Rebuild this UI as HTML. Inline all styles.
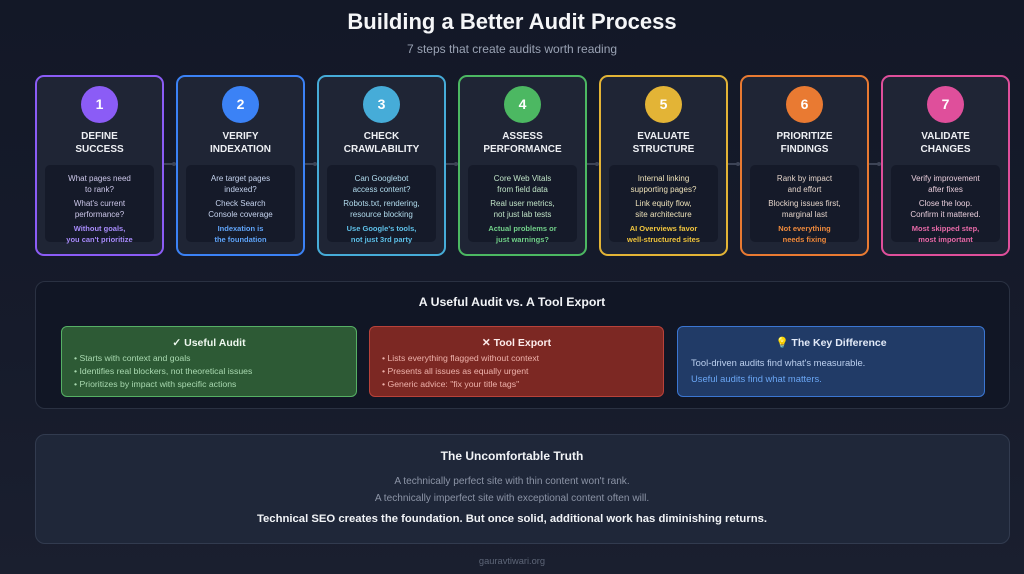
<!DOCTYPE html>
<html><head><meta charset="utf-8">
<style>
*{margin:0;padding:0;box-sizing:border-box}
html,body{width:1024px;height:574px;overflow:hidden}
body{background:linear-gradient(180deg,#131827 0%,#161b2b 60%,#1a1f2f 100%);font-family:"Liberation Sans",Arial,sans-serif;position:relative;color:#fff}
.abs{position:absolute}
.h1{left:0;width:1024px;top:8px;text-align:center;font-size:22px;font-weight:bold;color:#f5f6f8;line-height:28px}
.sub{left:0;width:1024px;top:41px;text-align:center;font-size:12px;color:#9aa2b4;line-height:16px}
.card{position:absolute;top:75px;width:129px;height:181px;border:2px solid;border-radius:9px;background:#1f2535}
.circ{position:absolute;left:44px;top:9px;width:37px;height:37px;border-radius:50%;text-align:center;line-height:37px;font-size:14px;font-weight:bold;color:#fff}
.ct{position:absolute;left:0;width:125px;top:54px;text-align:center;font-size:10px;font-weight:bold;line-height:12.5px;color:#eef0f4}
.inner{position:absolute;left:8px;top:88px;width:109px;height:77px;background:#151a29;border-radius:5px;padding-top:8px;text-align:center}
.inner p{font-size:8px;line-height:11px;margin-bottom:3px;white-space:nowrap}
.inner p.b{font-weight:bold;font-size:7.5px}
.conn{position:absolute;top:163px;width:12px;height:1.5px;background:#3d4456}
.dot{position:absolute;top:162px;width:4px;height:4px;border-radius:50%;background:#3d4456}
.mid{left:35px;top:281px;width:975px;height:128px;background:#111625;border:1px solid #2a3142;border-radius:10px}
.mt{left:0;width:1024px;top:294px;text-align:center;font-size:12.3px;font-weight:bold;color:#f2f4f7;line-height:16px}
.box{position:absolute;top:326px;height:71px;border:1.5px solid;border-radius:6px}
.bt{position:absolute;left:0;right:0;top:9px;text-align:center;font-size:10.5px;font-weight:bold;line-height:14px}
.items{position:absolute;left:12px;top:25px;font-size:8.7px;line-height:13px}
.bot{left:35px;top:434px;width:975px;height:110px;background:#1f2739;border:1.5px solid #323b4f;border-radius:10px}
.ctr{left:0;width:1024px;text-align:center}
</style></head><body>
<div class="abs h1">Building a Better Audit Process</div>
<div class="abs sub">7 steps that create audits worth reading</div>

<!-- Card 1 -->
<div class="card" style="left:35px;border-color:#8b5cf6">
  <div class="circ" style="background:#8b5cf6">1</div>
  <div class="ct">DEFINE<br>SUCCESS</div>
  <div class="inner">
    <p style="color:#cdc8ea">What pages need<br>to rank?</p>
    <p style="color:#cdc8ea">What's current<br>performance?</p>
    <p class="b" style="color:#a78bfa">Without goals,<br>you can't prioritize</p>
  </div>
</div>
<!-- Card 2 -->
<div class="card" style="left:176px;border-color:#3b82f6">
  <div class="circ" style="background:#3b82f6">2</div>
  <div class="ct">VERIFY<br>INDEXATION</div>
  <div class="inner">
    <p style="color:#c5d3ee">Are target pages<br>indexed?</p>
    <p style="color:#c5d3ee">Check Search<br>Console coverage</p>
    <p class="b" style="color:#60a5fa">Indexation is<br>the foundation</p>
  </div>
</div>
<!-- Card 3 -->
<div class="card" style="left:317px;border-color:#46acd8">
  <div class="circ" style="background:#46acd8">3</div>
  <div class="ct">CHECK<br>CRAWLABILITY</div>
  <div class="inner">
    <p style="color:#b2dcee">Can Googlebot<br>access content?</p>
    <p style="color:#b2dcee">Robots.txt, rendering,<br>resource blocking</p>
    <p class="b" style="color:#5ec0e8">Use Google's tools,<br>not just 3rd party</p>
  </div>
</div>
<!-- Card 4 -->
<div class="card" style="left:458px;border-color:#4cb862">
  <div class="circ" style="background:#4cb862">4</div>
  <div class="ct">ASSESS<br>PERFORMANCE</div>
  <div class="inner">
    <p style="color:#c0e4c7">Core Web Vitals<br>from field data</p>
    <p style="color:#c0e4c7">Real user metrics,<br>not just lab tests</p>
    <p class="b" style="color:#72d18a">Actual problems or<br>just warnings?</p>
  </div>
</div>
<!-- Card 5 -->
<div class="card" style="left:599px;border-color:#e3b436">
  <div class="circ" style="background:#e3b436">5</div>
  <div class="ct">EVALUATE<br>STRUCTURE</div>
  <div class="inner">
    <p style="color:#ece0b8">Internal linking<br>supporting pages?</p>
    <p style="color:#ece0b8">Link equity flow,<br>site architecture</p>
    <p class="b" style="color:#f2c63e">AI Overviews favor<br>well-structured sites</p>
  </div>
</div>
<!-- Card 6 -->
<div class="card" style="left:740px;border-color:#e97a32">
  <div class="circ" style="background:#e97a32">6</div>
  <div class="ct">PRIORITIZE<br>FINDINGS</div>
  <div class="inner">
    <p style="color:#e2d2c8">Rank by impact<br>and effort</p>
    <p style="color:#e2d2c8">Blocking issues first,<br>marginal last</p>
    <p class="b" style="color:#f08a3c">Not everything<br>needs fixing</p>
  </div>
</div>
<!-- Card 7 -->
<div class="card" style="left:881px;border-color:#df4f9b">
  <div class="circ" style="background:#df4f9b">7</div>
  <div class="ct">VALIDATE<br>CHANGES</div>
  <div class="inner">
    <p style="color:#e8cddb">Verify improvement<br>after fixes</p>
    <p style="color:#e8cddb">Close the loop.<br>Confirm it mattered.</p>
    <p class="b" style="color:#e86aa8">Most skipped step,<br>most important</p>
  </div>
</div>

<!-- connectors -->
<div class="conn" style="left:164px"></div><div class="dot" style="left:172px"></div>
<div class="conn" style="left:305px"></div><div class="dot" style="left:313px"></div>
<div class="conn" style="left:446px"></div><div class="dot" style="left:454px"></div>
<div class="conn" style="left:587px"></div><div class="dot" style="left:595px"></div>
<div class="conn" style="left:728px"></div><div class="dot" style="left:736px"></div>
<div class="conn" style="left:869px"></div><div class="dot" style="left:877px"></div>

<!-- middle -->
<div class="abs mid"></div>
<div class="abs mt">A Useful Audit vs. A Tool Export</div>
<div class="box" style="left:61px;width:296px;background:#2d5a35;border-color:#56b065">
  <div class="bt" style="color:#eef8ef">✓ Useful Audit</div>
  <div class="items" style="color:#a9d9b0">• Starts with context and goals<br>• Identifies real blockers, not theoretical issues<br>• Prioritizes by impact with specific actions</div>
</div>
<div class="box" style="left:369px;width:295px;background:#7c2823;border-color:#b9423a">
  <div class="bt" style="color:#fdeceb">✕ Tool Export</div>
  <div class="items" style="color:#eeb2ab">• Lists everything flagged without context<br>• Presents all issues as equally urgent<br>• Generic advice: "fix your title tags"</div>
</div>
<div class="box" style="left:677px;width:308px;background:#213b67;border-color:#3b76d2">
  <div class="bt" style="color:#e2eaf8">💡 The Key Difference</div>
  <div style="position:absolute;left:13px;top:28px;font-size:9.4px;line-height:16px">
    <div style="color:#bcd0ef">Tool-driven audits find what's measurable.</div>
    <div style="color:#6aa6f4">Useful audits find what matters.</div>
  </div>
</div>

<!-- bottom -->
<div class="abs bot"></div>
<div class="abs ctr" style="top:448px;font-size:12px;font-weight:bold;color:#f2f4f7;line-height:16px">The Uncomfortable Truth</div>
<div class="abs ctr" style="top:474px;font-size:10.1px;color:#8c94a6;line-height:16.5px">A technically perfect site with thin content won't rank.<br>A technically imperfect site with exceptional content often will.</div>
<div class="abs ctr" style="top:512px;font-size:11.3px;font-weight:bold;color:#f2f4f7;line-height:15px">Technical SEO creates the foundation. But once solid, additional work has diminishing returns.</div>
<div class="abs ctr" style="top:555px;font-size:9.3px;color:#5d6577;line-height:12px">gauravtiwari.org</div>
</body></html>
